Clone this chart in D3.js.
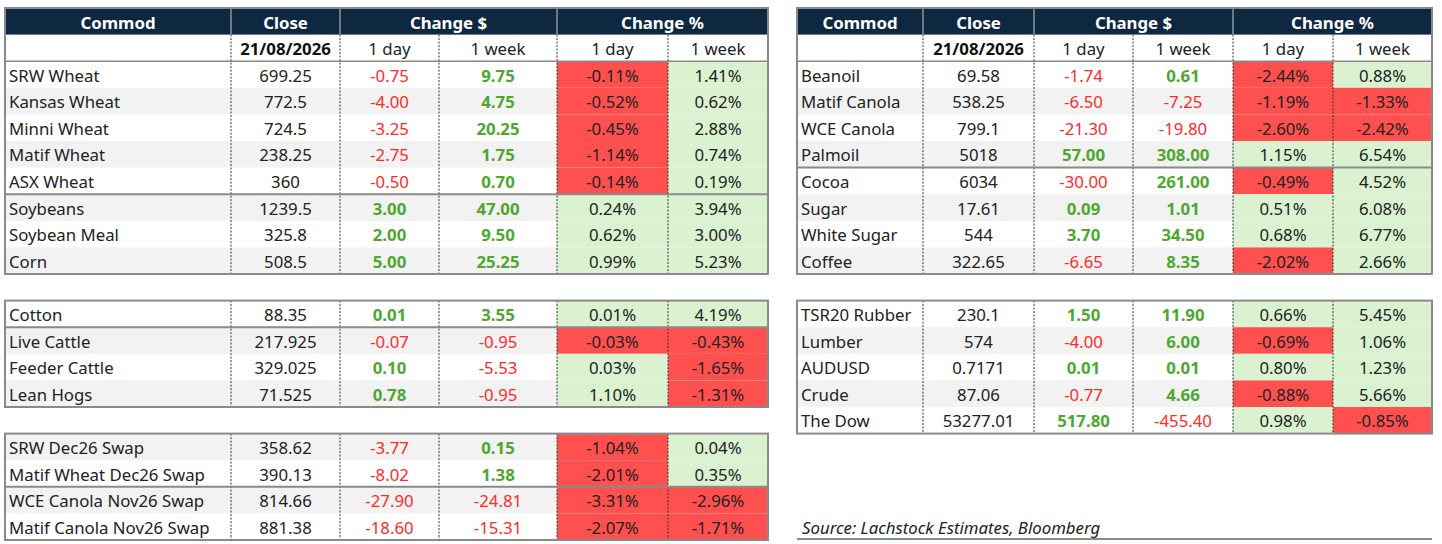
<!DOCTYPE html>
<html>
<head>
<meta charset="utf-8">
<script src="https://cdn.jsdelivr.net/npm/d3@7"></script>
<style>
  body { margin: 0; background: #fff; }
  svg text { font-family: "Noto Sans", "Liberation Sans", sans-serif; }
</style>
</head>
<body>
<div id="chart"></div>
<script>
// ---- data ----
const dateLabel = "21/08/2026";
const headerLabels = ["Commod", "Close", "Change $", "Change %"];
const periodLabels = ["1 day", "1 week"];

const leftCommod = ["SRW Wheat", "Kansas Wheat", "Minni Wheat", "Matif Wheat", "ASX Wheat",
    "Soybeans", "Soybean Meal", "Corn",
    "Cotton", "Live Cattle", "Feeder Cattle", "Lean Hogs",
    "SRW Dec26 Swap", "Matif Wheat Dec26 Swap", "WCE Canola Nov26 Swap", "Matif Canola Nov26 Swap"];
const leftClose = [699.25, 772.5, 724.5, 238.25, 360, 1239.5, 325.8, 508.5,
    88.35, 217.925, 329.025, 71.525, 358.62, 390.13, 814.66, 881.38];
const leftChg1d = [-0.75, -4.00, -3.25, -2.75, -0.50, 3.00, 2.00, 5.00,
    0.01, -0.07, 0.10, 0.78, -3.77, -8.02, -27.90, -18.60];
const leftChg1w = [9.75, 4.75, 20.25, 1.75, 0.70, 47.00, 9.50, 25.25,
    3.55, -0.95, -5.53, -0.95, 0.15, 1.38, -24.81, -15.31];
const leftPct1d = [-0.11, -0.52, -0.45, -1.14, -0.14, 0.24, 0.62, 0.99,
    0.01, -0.03, 0.03, 1.10, -1.04, -2.01, -3.31, -2.07];
const leftPct1w = [1.41, 0.62, 2.88, 0.74, 0.19, 3.94, 3.00, 5.23,
    4.19, -0.43, -1.65, -1.31, 0.04, 0.35, -2.96, -1.71];

const rightCommod = ["Beanoil", "Matif Canola", "WCE Canola", "Palmoil", "Cocoa", "Sugar", "White Sugar", "Coffee",
    "TSR20 Rubber", "Lumber", "AUDUSD", "Crude", "The Dow"];
const rightClose = [69.58, 538.25, 799.1, 5018, 6034, 17.61, 544, 322.65,
    230.1, 574, 0.7171, 87.06, 53277.01];
const rightChg1d = [-1.74, -6.50, -21.30, 57.00, -30.00, 0.09, 3.70, -6.65,
    1.50, -4.00, 0.01, -0.77, 517.80];
const rightChg1w = [0.61, -7.25, -19.80, 308.00, 261.00, 1.01, 34.50, 8.35,
    11.90, 6.00, 0.01, 4.66, -455.40];
const rightPct1d = [-2.44, -1.19, -2.60, 1.15, -0.49, 0.51, 0.68, -2.02,
    0.66, -0.69, 0.80, -0.88, 0.98];
const rightPct1w = [0.88, -1.33, -2.42, 6.54, 4.52, 6.08, 6.77, 2.66,
    5.45, 1.06, 1.23, 5.66, -0.85];

const sourceNote = "Source: Lachstock Estimates, Bloomberg";

// ---- layout ----
const W = 1442, H = 544;
const navy = "#0e2841", shade = "#f2f2f2", border = "#8a8a8a";
const redBg = "#ff5050", greenBg = "#daf2d0", redTxt = "#ff2b2b", greenTxt = "#4ea72e", ink = "#222";
const fs = 16.8;

const svg = d3.select("#chart").append("svg").attr("width", W).attr("height", H);

// 20 grid rows from top to bottom
const y = d3.scaleLinear().domain([0, 20]).range([8, 540]);
const rh = y(1) - y(0);

const tables = [
    {
        edges: [5, 231, 340, 439, 557, 668, 768],
        names: leftCommod, close: leftClose, c1: leftChg1d, c2: leftChg1w, p1: leftPct1d, p2: leftPct1w,
        blocks: [
            {first: 0, n: 8, row: 2, shadeFirst: false, split: [5], header: true},
            {first: 8, n: 4, row: 11, shadeFirst: false, split: [1]},
            {first: 12, n: 4, row: 16, shadeFirst: true, split: [2]}
        ]
    },
    {
        edges: [797, 923, 1034, 1133, 1233, 1333, 1432],
        names: rightCommod, close: rightClose, c1: rightChg1d, c2: rightChg1w, p1: rightPct1d, p2: rightPct1w,
        blocks: [
            {first: 0, n: 8, row: 2, shadeFirst: false, split: [4], header: true},
            {first: 8, n: 5, row: 11, shadeFirst: false, split: []}
        ]
    }
];

// excel style: plain hyphen for negatives
const fmt2 = v => v.toFixed(2);
const signColor = v => v < 0 ? redTxt : greenTxt;

tables.forEach(t => {
    const x = t.edges;
    const g = svg.append("g");
    const mid = (a, b) => (x[a] + x[b]) / 2;

    t.blocks.forEach(b => {
        const top = b.header ? b.row - 2 : b.row;
        const rows = d3.range(b.first, b.first + b.n);

        // header rows
        if (b.header) {
            g.append("rect").attr("x", x[0]).attr("y", y(0)).attr("width", x[6] - x[0]).attr("height", rh)
                .attr("fill", navy);
            [1, 2, 4].forEach(k => g.append("line")
                .attr("x1", x[k]).attr("x2", x[k]).attr("y1", y(0)).attr("y2", y(1))
                .attr("stroke", "#c8ccd4").attr("stroke-width", 1));
            const hx = [mid(0, 1), mid(1, 2), mid(2, 4), mid(4, 6)];
            headerLabels.forEach((h, k) => g.append("text")
                .attr("x", hx[k]).attr("y", y(0.5) + 1)
                .attr("text-anchor", "middle").attr("dominant-baseline", "central")
                .attr("fill", "#fff").attr("font-weight", "bold").attr("font-size", fs).text(h));
            g.append("text").attr("x", mid(1, 2)).attr("y", y(1.5) + 1)
                .attr("text-anchor", "middle").attr("dominant-baseline", "central")
                .attr("fill", "#111").attr("font-weight", "bold").attr("font-size", fs).text(dateLabel);
            [2, 4].forEach(k => periodLabels.forEach((p, j) => g.append("text")
                .attr("x", mid(k + j, k + j + 1)).attr("y", y(1.5) + 1)
                .attr("text-anchor", "middle").attr("dominant-baseline", "central")
                .attr("fill", ink).attr("font-size", fs).text(p)));
        }

        // row shading and % cells
        rows.forEach((i, r) => {
            const yy = y(b.row + r);
            const shaded = (r % 2 === 0) === b.shadeFirst;
            if (shaded) g.append("rect").attr("x", x[0]).attr("y", yy).attr("width", x[4] - x[0]).attr("height", rh)
                .attr("fill", shade);
            [t.p1[i], t.p2[i]].forEach((v, j) => g.append("rect")
                .attr("x", x[4 + j]).attr("y", yy).attr("width", x[5 + j] - x[4 + j]).attr("height", rh)
                .attr("fill", v < 0 ? redBg : greenBg));
        });

        // vertical dotted lines
        const y0 = b.header ? y(1) : y(top);
        d3.range(1, 6).forEach(k => g.append("line")
            .attr("x1", x[k]).attr("x2", x[k]).attr("y1", y0).attr("y2", y(b.row + b.n))
            .attr("stroke", "#333").attr("stroke-width", 1).attr("stroke-dasharray", "2,1.5"));

        // separators
        if (b.header) g.append("line").attr("x1", x[0]).attr("x2", x[6]).attr("y1", y(2)).attr("y2", y(2))
            .attr("stroke", border).attr("stroke-width", 1.5);
        b.split.forEach(s => g.append("line").attr("x1", x[0]).attr("x2", x[6])
            .attr("y1", y(b.row + s)).attr("y2", y(b.row + s))
            .attr("stroke", border).attr("stroke-width", 2));

        // outer border
        g.append("rect").attr("x", x[0]).attr("y", y(top)).attr("width", x[6] - x[0])
            .attr("height", y(b.row + b.n) - y(top))
            .attr("fill", "none").attr("stroke", border).attr("stroke-width", 2);

        // texts
        rows.forEach((i, r) => {
            const cy = y(b.row + r + 0.5) + 0.5;
            const cell = (cx, txt, anchor) => g.append("text").attr("x", cx).attr("y", cy)
                .attr("text-anchor", anchor).attr("dominant-baseline", "central")
                .attr("font-size", fs).attr("fill", ink).text(txt);
            cell(x[0] + 4, t.names[i], "start");
            cell(mid(1, 2), String(t.close[i]), "middle");
            [t.c1[i], t.c2[i]].forEach((v, j) => cell(mid(2 + j, 3 + j), fmt2(v), "middle")
                .attr("fill", signColor(v)).attr("font-weight", v < 0 ? "normal" : "bold"));
            [t.p1[i], t.p2[i]].forEach((v, j) => cell(mid(4 + j, 5 + j), fmt2(v) + "%", "middle"));
        });
    });
});

// source note under right table
const rx = tables[1].edges;
svg.append("text").attr("x", rx[0] + 5).attr("y", y(19.5) + 1)
    .attr("dominant-baseline", "central").attr("font-style", "italic")
    .attr("font-size", fs).attr("fill", ink).text(sourceNote);
svg.append("line").attr("x1", rx[0]).attr("x2", rx[6]).attr("y1", y(20) - 1).attr("y2", y(20) - 1)
    .attr("stroke", border).attr("stroke-width", 2);
</script>
</body>
</html>
